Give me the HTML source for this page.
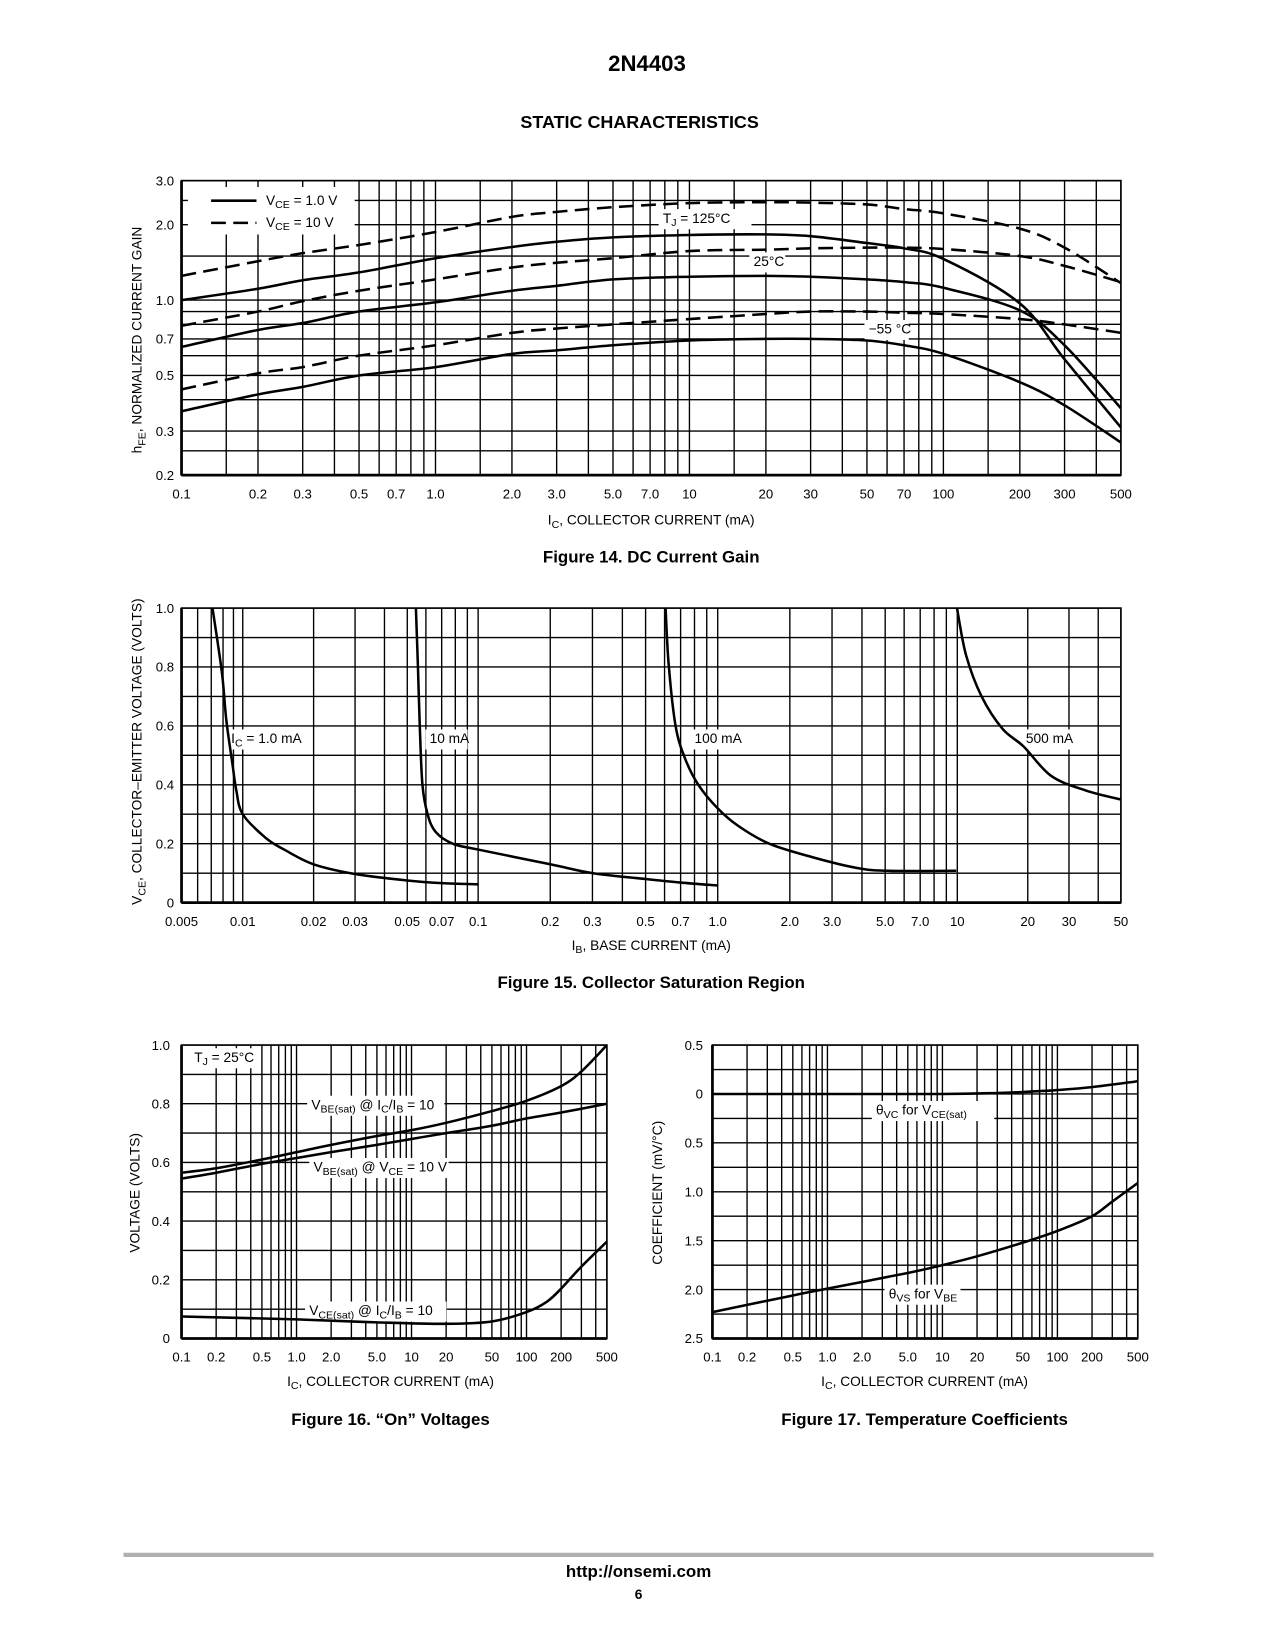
<!DOCTYPE html>
<html><head><meta charset="utf-8">
<style>
html,body{margin:0;padding:0;background:#fff;}
svg{display:block;}
text{font-family:"Liberation Sans Narrow","Liberation Sans",sans-serif;fill:#000;}
.b{font-family:"Liberation Sans",sans-serif;font-weight:bold;}
</style></head>
<body>
<svg id="page" xmlns="http://www.w3.org/2000/svg" width="1275" height="1650" viewBox="0 0 1208 1563">
<text class="b" x="613" y="67" font-size="21" text-anchor="middle">2N4403</text>
<text class="b" x="606" y="121" font-size="17" text-anchor="middle">STATIC CHARACTERISTICS</text>

<g id="fig14"></g>
<text class="b" x="617" y="533" font-size="16" text-anchor="middle">Figure 14. DC Current Gain</text>
<text x="617" y="497" font-size="13" text-anchor="middle">I<tspan font-size="10" dy="3">C</tspan><tspan dy="-3">, COLLECTOR CURRENT (mA)</tspan></text>
<text x="0" y="0" font-size="13" text-anchor="middle" transform="translate(134,322) rotate(-90)">h<tspan font-size="10" dy="4">FE</tspan><tspan dy="-4">, NORMALIZED CURRENT GAIN</tspan></text>

<g id="fig15"></g>
<text class="b" x="617" y="936" font-size="16" text-anchor="middle">Figure 15. Collector Saturation Region</text>
<text x="617" y="900" font-size="13" text-anchor="middle">I<tspan font-size="10" dy="3">B</tspan><tspan dy="-3">, BASE CURRENT (mA)</tspan></text>
<text x="0" y="0" font-size="13" text-anchor="middle" transform="translate(134,712) rotate(-90)">V<tspan font-size="10" dy="4">CE</tspan><tspan dy="-4">, COLLECTOR–EMITTER VOLTAGE (VOLTS)</tspan></text>

<g id="fig16"></g>
<text class="b" x="370" y="1350" font-size="16" text-anchor="middle">Figure 16. “On” Voltages</text>
<text x="370" y="1313" font-size="13" text-anchor="middle">I<tspan font-size="10" dy="3">C</tspan><tspan dy="-3">, COLLECTOR CURRENT (mA)</tspan></text>
<text x="0" y="0" font-size="13" text-anchor="middle" transform="translate(132,1130) rotate(-90)">VOLTAGE (VOLTS)</text>

<g id="fig17"></g>
<text class="b" x="876" y="1350" font-size="16" text-anchor="middle">Figure 17. Temperature Coefficients</text>
<text x="876" y="1313" font-size="13" text-anchor="middle">I<tspan font-size="10" dy="3">C</tspan><tspan dy="-3">, COLLECTOR CURRENT (mA)</tspan></text>
<text x="0" y="0" font-size="13" text-anchor="middle" transform="translate(627,1130) rotate(-90)">COEFFICIENT (mV/°C)</text>

<rect x="117" y="1471" width="976" height="4" fill="#b0b0b0"/>
<text class="b" x="605" y="1494" font-size="16" text-anchor="middle">http://onsemi.com</text>
<text class="b" x="605" y="1515" font-size="13" text-anchor="middle">6</text>
</svg>
<script>
// ---------- Figure 14 data ----------
var f14Xticks = [0.1,0.2,0.3,0.5,0.7,1.0,2.0,3.0,5.0,7.0,10,20,30,50,70,100,200,300,500];
var f14Xlabels = ["0.1","0.2","0.3","0.5","0.7","1.0","2.0","3.0","5.0","7.0","10","20","30","50","70","100","200","300","500"];
var f14Yticks = [0.2,0.3,0.5,0.7,1.0,2.0,3.0];
var f14Ylabels = ["0.2","0.3","0.5","0.7","1.0","2.0","3.0"];
var f14Ygrid = [0.25,0.3,0.4,0.5,0.6,0.7,0.8,0.9,1.0,1.5,2.0,2.5];
var f14IC = [0.1,0.2,0.3,0.5,1.0,2.0,3.0,5.0,10,20,30,50,70,100,200,300,500];
var f14Dash125 = [1.25,1.43,1.54,1.66,1.87,2.15,2.25,2.35,2.44,2.46,2.45,2.41,2.31,2.22,1.93,1.62,1.17];
var f14Solid125 = [1.0,1.11,1.2,1.29,1.47,1.63,1.71,1.78,1.82,1.83,1.8,1.69,1.61,1.46,0.97,0.58,0.31];
var f14Dash25 = [0.79,0.90,0.99,1.09,1.21,1.35,1.41,1.47,1.57,1.59,1.61,1.62,1.62,1.60,1.50,1.37,1.18];
var f14Solid25 = [0.65,0.76,0.81,0.90,0.98,1.09,1.14,1.21,1.24,1.25,1.24,1.21,1.18,1.12,0.91,0.66,0.37];
var f14DashM55 = [0.44,0.51,0.54,0.60,0.66,0.74,0.77,0.80,0.84,0.88,0.90,0.90,0.89,0.88,0.84,0.80,0.74];
var f14SolidM55 = [0.36,0.42,0.45,0.50,0.54,0.61,0.63,0.66,0.69,0.70,0.70,0.69,0.66,0.61,0.47,0.38,0.27];

// ---------- Figure 15 data ----------
var f15Xticks = [0.005,0.01,0.02,0.03,0.05,0.07,0.1,0.2,0.3,0.5,0.7,1.0,2.0,3.0,5.0,7.0,10,20,30,50];
var f15Xlabels = ["0.005","0.01","0.02","0.03","0.05","0.07","0.1","0.2","0.3","0.5","0.7","1.0","2.0","3.0","5.0","7.0","10","20","30","50"];
var f15Yticks = [0,0.2,0.4,0.6,0.8,1.0];
var f15Ylabels = ["0","0.2","0.4","0.6","0.8","1.0"];
var f15IB_1 = [0.0071,0.0079,0.0083,0.0089,0.0093,0.010,0.0125,0.015,0.02,0.03,0.05,0.07,0.1];
var f15V_1 = [1.0,0.78,0.62,0.47,0.38,0.30,0.22,0.18,0.13,0.097,0.075,0.066,0.062];
var f15IB_10 = [0.0544,0.0555,0.0565,0.058,0.061,0.066,0.078,0.1,0.2,0.3,0.5,0.7,1.0];
var f15V_10 = [1.0,0.8,0.6,0.4,0.3,0.24,0.2,0.18,0.13,0.1,0.08,0.068,0.058];
var f15IB_100 = [0.606,0.624,0.667,0.73,0.83,1.0,1.22,1.64,2.49,3.79,5.15,9.9];
var f15V_100 = [1.0,0.81,0.6,0.49,0.40,0.32,0.26,0.2,0.154,0.118,0.108,0.108];
var f15IB_500 = [9.97,10.9,12.7,15.6,19.2,25.2,35.6,50];
var f15V_500 = [1.0,0.84,0.70,0.59,0.53,0.43,0.38,0.35];

// ---------- Figure 16 data ----------
var f16Xticks = [0.1,0.2,0.5,1.0,2.0,5.0,10,20,50,100,200,500];
var f16Xlabels = ["0.1","0.2","0.5","1.0","2.0","5.0","10","20","50","100","200","500"];
var f16Yticks = [0,0.2,0.4,0.6,0.8,1.0];
var f16Ylabels = ["0","0.2","0.4","0.6","0.8","1.0"];
var f16IC_a = [0.1,0.2,0.5,1,2,5,10,20,50,100,200,300,500];
var f16VbeSatIb = [0.565,0.58,0.61,0.635,0.66,0.69,0.71,0.735,0.775,0.81,0.86,0.91,1.0];
var f16IC_b = [0.1,0.2,0.5,1,2,5,10,20,50,100,200,500];
var f16VbeSatVce = [0.545,0.565,0.595,0.615,0.635,0.66,0.68,0.70,0.725,0.75,0.77,0.80];
var f16IC_c = [0.1,1,5,20,50,100,150,200,300,500];
var f16VceSat = [0.075,0.065,0.055,0.05,0.058,0.09,0.125,0.17,0.245,0.33];

// ---------- Figure 17 data ----------
var f17Xticks = [0.1,0.2,0.5,1.0,2.0,5.0,10,20,50,100,200,500];
var f17Xlabels = ["0.1","0.2","0.5","1.0","2.0","5.0","10","20","50","100","200","500"];
var f17Yticks = [0.5,0,-0.5,-1.0,-1.5,-2.0,-2.5];
var f17Ylabels = ["0.5","0","0.5","1.0","1.5","2.0","2.5"];
var f17IC_vc = [0.1,1,10,30,50,100,200,500];
var f17ThetaVC = [0,0,0,0.01,0.02,0.04,0.07,0.13];
var f17IC_vs = [0.1,0.5,1,5,10,20,50,100,200,300,500];
var f17ThetaVS = [-2.23,-2.06,-1.99,-1.83,-1.75,-1.66,-1.52,-1.40,-1.25,-1.10,-0.91];

var NS = "http://www.w3.org/2000/svg";
function mk(parent, tag, attrs){
  var e = document.createElementNS(NS, tag);
  for (var k in attrs) e.setAttribute(k, attrs[k]);
  parent.appendChild(e);
  return e;
}
function logScale(d0,d1,p0,p1){
  var l0=Math.log10(d0), l1=Math.log10(d1);
  return function(v){ return p0 + (Math.log10(v)-l0)/(l1-l0)*(p1-p0); };
}
function linScale(d0,d1,p0,p1){ return function(v){ return p0+(v-d0)/(d1-d0)*(p1-p0); }; }
function pieceLog(vals,pos){
  return function(v){
    var lv=Math.log10(v);
    for (var i=0;i<vals.length-1;i++){
      var a=Math.log10(vals[i]), b=Math.log10(vals[i+1]);
      if (lv<=b || i==vals.length-2) return pos[i]+(lv-a)/(b-a)*(pos[i+1]-pos[i]);
    }
  };
}
function decadeGrid(lo,hi,mults){
  var out=[];
  for (var d=Math.floor(Math.log10(lo))-1; d<=Math.ceil(Math.log10(hi)); d++){
    for (var i=0;i<mults.length;i++){
      var v=mults[i]*Math.pow(10,d);
      if (v>lo*1.0001 && v<hi*0.9999) out.push(v);
    }
  }
  return out;
}
function curvePath(pts){
  var d="M"+pts[0][0].toFixed(2)+","+pts[0][1].toFixed(2);
  for (var i=0;i<pts.length-1;i++){
    var p0=pts[Math.max(0,i-1)], p1=pts[i], p2=pts[i+1], p3=pts[Math.min(pts.length-1,i+2)];
    var c1x=p1[0]+(p2[0]-p0[0])/6, c1y=p1[1]+(p2[1]-p0[1])/6;
    var c2x=p2[0]-(p3[0]-p1[0])/6, c2y=p2[1]-(p3[1]-p1[1])/6;
    d+=" C"+c1x.toFixed(2)+","+c1y.toFixed(2)+" "+c2x.toFixed(2)+","+c2y.toFixed(2)+" "+p2[0].toFixed(2)+","+p2[1].toFixed(2);
  }
  return d;
}
function drawFrame(g, x0,x1,y0,y1, xs, ys, xgrid, ygrid){
  for (var i=0;i<xgrid.length;i++){
    var x=xs(xgrid[i]);
    var l=mk(g,"line",{x1:x,y1:y0,x2:x,y2:y1,stroke:"#000","stroke-width":1.3});
    
    
  }
  for (var j=0;j<ygrid.length;j++){
    var y=ys(ygrid[j]);
    var h=mk(g,"line",{x1:x0,y1:y,x2:x1,y2:y,stroke:"#000","stroke-width":1.3});
    
    
  }
  var r=mk(g,"rect",{x:x0,y:y0,width:x1-x0,height:y1-y0,fill:"none",stroke:"#000","stroke-width":1.6});
  
  
  var bl=mk(g,"line",{x1:x0,y1:y1,x2:x1,y2:y1,stroke:"#000","stroke-width":2.6});
  
  
  var ll=mk(g,"line",{x1:x0,y1:y0,x2:x0,y2:y1,stroke:"#000","stroke-width":2.6});
  
  
}
function drawTicks(g, xs, xt, xl, ly, ys, yt, yl, lx){
  for (var i=0;i<xt.length;i++){
    var t=mk(g,"text",{x:xs(xt[i]),y:ly,"font-size":12.5,"text-anchor":"middle"});
    t.textContent=xl[i];
    
    
  }
  for (var j=0;j<yt.length;j++){
    var u=mk(g,"text",{x:lx,y:ys(yt[j])+4.5,"font-size":12.5,"text-anchor":"end"});
    u.textContent=yl[j];
    
    
  }
}
function drawSeries(g, xs, ys, xv, yv, dashed, name){
  var pts=[];
  for (var i=0;i<xv.length;i++) pts.push([xs(xv[i]), ys(yv[i])]);
  var a={d:curvePath(pts),fill:"none",stroke:"#000","stroke-width":2.4,"stroke-linejoin":"round"};
  if (dashed) a["stroke-dasharray"]="14,7";
  var p=mk(g,"path",a);
  
  
}
function label(g, x, y, w, html, name){
  var r=mk(g,"rect",{x:x-4,y:y-13,width:w,height:19,fill:"#fff"});
  
  
  var t=mk(g,"text",{x:x,y:y,"font-size":13});
  t.innerHTML=html;
  
  
}
var SUB=function(s){return '<tspan font-size="10" dy="3">'+s+'</tspan><tspan dy="-3">';};

// ---- Fig 14 ----
(function(){
  var g=document.getElementById("fig14");
  var xs=logScale(0.1,500,172,1062), ys=logScale(0.2,3.0,450,171);
  drawFrame(g,172,1062,171,450,xs,ys,decadeGrid(0.1,500,[1,1.5,2,3,4,5,6,7,8,9]),f14Ygrid);
  // legend box
  var lb=mk(g,"rect",{x:178,y:177,width:158,height:45,fill:"#fff"});
  
  
  var l1=mk(g,"line",{x1:200,y1:190,x2:243,y2:190,stroke:"#000","stroke-width":2.4});
  
  
  var l2=mk(g,"line",{x1:200,y1:211,x2:243,y2:211,stroke:"#000","stroke-width":2.4,"stroke-dasharray":"14,7"});
  
  
  var t1=mk(g,"text",{x:252,y:194,"font-size":13});
  t1.innerHTML='V'+SUB('CE')+' = 1.0 V</tspan>';
  
  
  var t2=mk(g,"text",{x:252,y:215,"font-size":13});
  t2.innerHTML='V'+SUB('CE')+' = 10 V</tspan>';
  
  
  label(g,628,211,88,'T'+SUB('J')+' = 125°C</tspan>','label-tj-125c');
  label(g,714,252,34,'25°C','label-25c');
  label(g,823,316,42,'−55 °C','label-minus55c');
  drawSeries(g,xs,ys,f14IC,f14Dash125,true,'series-125c-vce10');
  drawSeries(g,xs,ys,f14IC,f14Solid125,false,'series-125c-vce1');
  drawSeries(g,xs,ys,f14IC,f14Dash25,true,'series-25c-vce10');
  drawSeries(g,xs,ys,f14IC,f14Solid25,false,'series-25c-vce1');
  drawSeries(g,xs,ys,f14IC,f14DashM55,true,'series-minus55c-vce10');
  drawSeries(g,xs,ys,f14IC,f14SolidM55,false,'series-minus55c-vce1');
  drawTicks(g,xs,f14Xticks,f14Xlabels,472,ys,f14Yticks,f14Ylabels,165);
})();

// ---- Fig 15 ----
(function(){
  var g=document.getElementById("fig15");
  var xs=pieceLog([0.005,0.01,0.1,1,10,50],[172,230,453,680,907,1062]);
  var ys=linScale(0,1,855,576);
  drawFrame(g,172,1062,576,855,xs,ys,decadeGrid(0.005,50,[1,2,3,4,5,6,7,8,9]),[0.1,0.2,0.3,0.4,0.5,0.6,0.7,0.8,0.9]);
  label(g,219,704,70,'I'+SUB('C')+' = 1.0 mA</tspan>','label-ic-1ma');
  label(g,407,704,40,'10 mA','label-ic-10ma');
  label(g,658,704,48,'100 mA','label-ic-100ma');
  label(g,972,704,48,'500 mA','label-ic-500ma');
  drawSeries(g,xs,ys,f15IB_1,f15V_1,false,'series-ic-1ma');
  drawSeries(g,xs,ys,f15IB_10,f15V_10,false,'series-ic-10ma');
  drawSeries(g,xs,ys,f15IB_100,f15V_100,false,'series-ic-100ma');
  drawSeries(g,xs,ys,f15IB_500,f15V_500,false,'series-ic-500ma');
  drawTicks(g,xs,f15Xticks,f15Xlabels,877,ys,f15Yticks,f15Ylabels,165);
})();

// ---- Fig 16 ----
(function(){
  var g=document.getElementById("fig16");
  var xs=logScale(0.1,500,172,575), ys=linScale(0,1,1268,990);
  drawFrame(g,172,575,990,1268,xs,ys,decadeGrid(0.1,500,[1,2,3,4,5,6,7,8,9]),[0.1,0.2,0.3,0.4,0.5,0.6,0.7,0.8,0.9]);
  label(g,184,1006,64,'T'+SUB('J')+' = 25°C</tspan>','label-tj-25c');
  label(g,295,1051,130,'V'+SUB('BE(sat)')+' @ I</tspan>'+SUB('C')+'/I</tspan>'+SUB('B')+' = 10</tspan>','label-vbe-sat-ic-ib');
  label(g,297,1110,132,'V'+SUB('BE(sat)')+' @ V</tspan>'+SUB('CE')+' = 10 V</tspan>','label-vbe-sat-vce');
  label(g,293,1246,134,'V'+SUB('CE(sat)')+' @ I</tspan>'+SUB('C')+'/I</tspan>'+SUB('B')+' = 10</tspan>','label-vce-sat');
  drawSeries(g,xs,ys,f16IC_a,f16VbeSatIb,false,'series-vbe-sat-ic-ib-10');
  drawSeries(g,xs,ys,f16IC_b,f16VbeSatVce,false,'series-vbe-sat-vce-10v');
  drawSeries(g,xs,ys,f16IC_c,f16VceSat,false,'series-vce-sat');
  drawTicks(g,xs,f16Xticks,f16Xlabels,1290,ys,f16Yticks,f16Ylabels,161);
})();

// ---- Fig 17 ----
(function(){
  var g=document.getElementById("fig17");
  var xs=logScale(0.1,500,675,1078), ys=linScale(-2.5,0.5,1268,990);
  drawFrame(g,675,1078,990,1268,xs,ys,decadeGrid(0.1,500,[1,2,3,4,5,6,7,8,9]),[0.25,0,-0.25,-0.5,-0.75,-1,-1.25,-1.5,-1.75,-2,-2.25]);
  label(g,830,1056,116,'θ'+SUB('VC')+' for V</tspan>'+SUB('CE(sat)')+'</tspan>','label-theta-vc');
  label(g,842,1230,72,'θ'+SUB('VS')+' for V</tspan>'+SUB('BE')+'</tspan>','label-theta-vs');
  drawSeries(g,xs,ys,f17IC_vc,f17ThetaVC,false,'series-theta-vc');
  drawSeries(g,xs,ys,f17IC_vs,f17ThetaVS,false,'series-theta-vs');
  drawTicks(g,xs,f17Xticks,f17Xlabels,1290,ys,f17Yticks,f17Ylabels,666);
})();
</script>
</body></html>
